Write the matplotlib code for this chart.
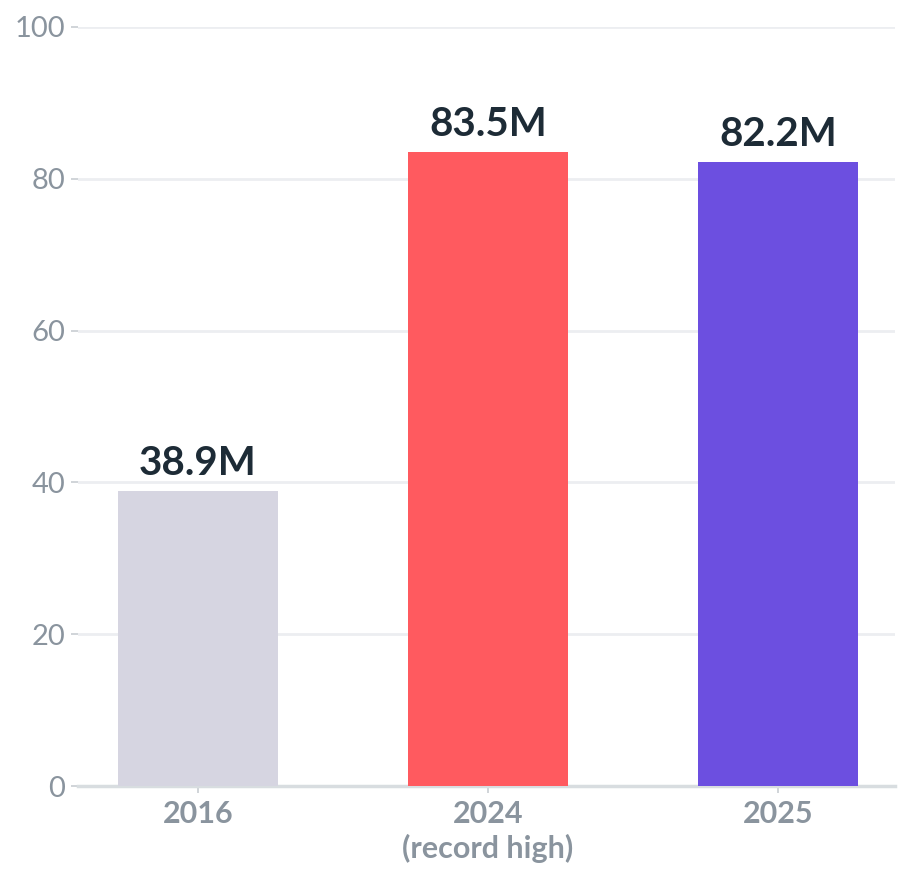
import matplotlib
matplotlib.use("Agg")
import matplotlib.pyplot as plt

years = ["2016", "2024\n(record high)", "2025"]
values = [38.9, 83.5, 82.2]
value_labels = ["38.9M", "83.5M", "82.2M"]
bar_colors = ["#d6d5e1", "#ff5a5f", "#6c4fe0"]
y_ticks = [0, 20, 40, 60, 80, 100]

plt.rcParams['font.family'] = ['Lato', 'DejaVu Sans']

fig = plt.figure(figsize=(9.09, 8.81), dpi=100)
ax = fig.add_axes([0.0858, 0.1078, 0.8988, 0.8616])

x = list(range(len(years)))
ax.bar(x, values, width=0.55, color=bar_colors, zorder=3)

for xi, v, lab in zip(x, values, value_labels):
    ax.text(xi, v + 1.2, lab, ha="center", va="bottom", fontsize=29,
            fontweight="bold", color="#1d2b36", zorder=4)

ax.set_xlim(-0.414, 2.403)
ax.set_ylim(0, 100)
ax.set_yticks(y_ticks)
ax.set_yticklabels([str(t) for t in y_ticks])
ax.set_xticks(x)
ax.set_xticklabels(years, fontweight="bold", linespacing=1.25)

ax.grid(axis="y", color="#eceef1", linewidth=2, zorder=0)
for side in ["top", "right", "left"]:
    ax.spines[side].set_visible(False)
ax.spines["bottom"].set_color("#d8dde0")
ax.spines["bottom"].set_linewidth(2.5)

ax.tick_params(axis="y", labelsize=21, labelcolor="#8a949e", color="#c8cdd2",
               length=5, width=1.2, pad=4)
ax.tick_params(axis="x", labelsize=22, labelcolor="#8a949e", color="#c8cdd2",
               length=5, width=1.2, pad=5)

fig.savefig("out.png", dpi=100, facecolor="white")
